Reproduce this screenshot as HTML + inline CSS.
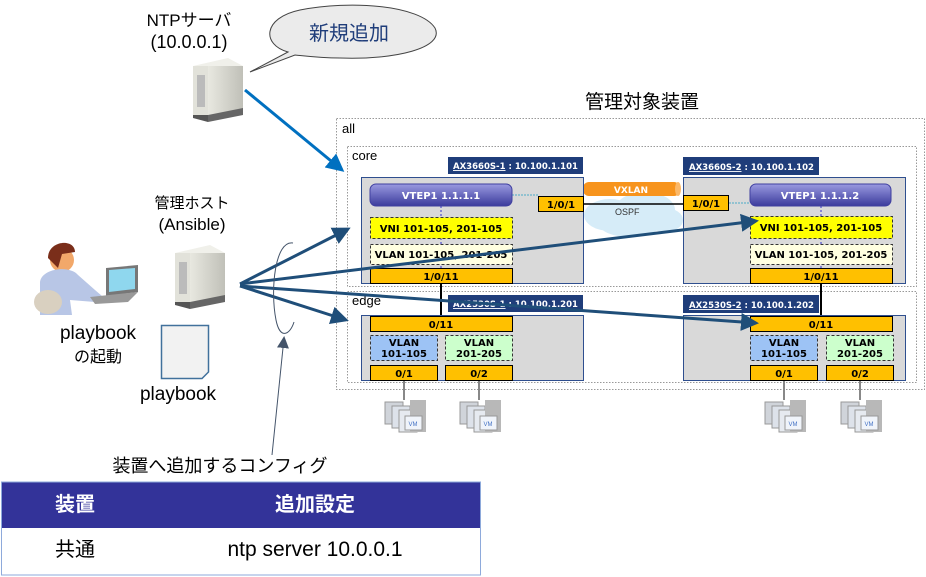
<!DOCTYPE html>
<html><head><meta charset="utf-8"><style>
html,body{margin:0;padding:0;background:#fff;}
svg{display:block;font-family:"Liberation Sans","Noto Sans CJK JP",sans-serif;}
.b{font-family:"DejaVu Sans","Liberation Sans",sans-serif;font-weight:bold;font-size:10px;}
.l{font-family:"DejaVu Sans","Liberation Sans",sans-serif;font-weight:bold;font-size:9px;}
</style></head><body>
<svg width="926" height="577" viewBox="0 0 926 577" xmlns="http://www.w3.org/2000/svg">
<defs>
<marker id="ah" markerWidth="6" markerHeight="6" refX="5" refY="3" orient="auto" markerUnits="strokeWidth"><path d="M0,0 L6,3 L0,6 z" fill="#1f4e79"/></marker>
<marker id="ah2" markerWidth="6" markerHeight="6" refX="5" refY="3" orient="auto" markerUnits="strokeWidth"><path d="M0,0 L6,3 L0,6 z" fill="#0070c0"/></marker>
<marker id="ah3" markerWidth="12" markerHeight="12" refX="10" refY="6" orient="auto" markerUnits="userSpaceOnUse"><path d="M0,0 L12,6 L0,12 z" fill="#44546a"/></marker>
<linearGradient id="vt" x1="0" y1="0" x2="0" y2="1"><stop offset="0" stop-color="#9a9ae0"/><stop offset="1" stop-color="#3b3b9c"/></linearGradient>
<linearGradient id="srv" x1="0" y1="0" x2="1" y2="0"><stop offset="0" stop-color="#e8e8e0"/><stop offset="1" stop-color="#c0c0b8"/></linearGradient>
</defs>

<text x="585" y="108" font-size="19">管理対象装置</text>
<rect x="336.5" y="118.5" width="588" height="271" fill="none" stroke="#999" stroke-dasharray="1.5,1.5"/>
<text x="342" y="133" font-size="13">all</text>
<rect x="347.5" y="146.5" width="569" height="140" fill="none" stroke="#999" stroke-dasharray="1.5,1.5"/>
<text x="352" y="160" font-size="13">core</text>
<rect x="347.5" y="291.5" width="569" height="91" fill="none" stroke="#999" stroke-dasharray="1.5,1.5"/>
<text x="352" y="305" font-size="13">edge</text>

<g fill="#d6ecf8"><ellipse cx="610" cy="215" rx="26" ry="16"/><ellipse cx="645" cy="210" rx="30" ry="18"/><ellipse cx="630" cy="225" rx="30" ry="12"/><ellipse cx="665" cy="220" rx="18" ry="12"/></g>
<text x="615" y="215" font-size="9" fill="#333">OSPF</text>
<rect x="583" y="182" width="97" height="14" rx="6" fill="#f7941d"/>
<ellipse cx="678" cy="189" rx="3" ry="7" fill="#fbb868"/>
<text x="631" y="193" class="b" fill="#fff" text-anchor="middle" style="font-size:9px">VXLAN</text>
<line x1="583" y1="204" x2="683" y2="204" stroke="#000" stroke-width="1.5"/>

<!-- switch core 1 -->
<rect x="448" y="157" width="135" height="17" fill="#1f3d7a"/>
<text x="453" y="169" class="l" fill="#fff" textLength="125" lengthAdjust="spacingAndGlyphs"><tspan text-decoration="underline">AX3660S-1</tspan> : 10.100.1.101</text>
<rect x="361.5" y="177.5" width="222" height="106" fill="#d9d9d9" stroke="#2f4f8f"/>
<line x1="512" y1="195" x2="538" y2="195" stroke="#4bacc6" stroke-dasharray="2,1"/>
<line x1="441" y1="206" x2="441" y2="268" stroke="#33c" stroke-dasharray="2,2"/>
<rect x="370" y="184" width="142" height="22" rx="6" fill="url(#vt)" stroke="#4040a0"/>
<text x="441" y="199" class="b" fill="#fff" text-anchor="middle">VTEP1   1.1.1.1</text>
<rect x="370.5" y="217.5" width="142" height="21" fill="#ffff00" stroke="#333" stroke-dasharray="3,2"/>
<text x="441" y="232" class="b" text-anchor="middle">VNI 101-105, 201-105</text>
<rect x="370.5" y="244.5" width="142" height="20" fill="#ffffe0" stroke="#333" stroke-dasharray="3,2"/>
<text x="441" y="258" class="b" text-anchor="middle">VLAN 101-105, 201-205</text>
<rect x="370.5" y="268.5" width="142" height="15" fill="#ffc000" stroke="#000"/>
<text x="441" y="280" class="b" text-anchor="middle">1/0/11</text>
<rect x="538.5" y="196.5" width="45" height="15" fill="#ffc000" stroke="#000"/>
<text x="561" y="208" class="b" text-anchor="middle">1/0/1</text>

<!-- switch core 2 -->
<rect x="683" y="157" width="136" height="18" fill="#1f3d7a"/>
<text x="689" y="170" class="l" fill="#fff" textLength="125" lengthAdjust="spacingAndGlyphs"><tspan text-decoration="underline">AX3660S-2</tspan> : 10.100.1.102</text>
<rect x="683.5" y="177.5" width="222" height="106" fill="#d9d9d9" stroke="#2f4f8f"/>
<line x1="729" y1="203" x2="750" y2="203" stroke="#4bacc6" stroke-dasharray="2,1"/>
<line x1="821" y1="206" x2="821" y2="268" stroke="#33c" stroke-dasharray="2,2"/>
<rect x="750" y="184" width="141" height="22" rx="6" fill="url(#vt)" stroke="#4040a0"/>
<text x="820" y="199" class="b" fill="#fff" text-anchor="middle">VTEP1   1.1.1.2</text>
<rect x="750.5" y="216.5" width="142" height="22" fill="#ffff00" stroke="#333" stroke-dasharray="3,2"/>
<text x="821" y="231" class="b" text-anchor="middle">VNI 101-105, 201-105</text>
<rect x="750.5" y="244.5" width="142" height="20" fill="#ffffe0" stroke="#333" stroke-dasharray="3,2"/>
<text x="821" y="258" class="b" text-anchor="middle">VLAN 101-105, 201-205</text>
<rect x="750.5" y="268.5" width="142" height="15" fill="#ffc000" stroke="#000"/>
<text x="821" y="280" class="b" text-anchor="middle">1/0/11</text>
<rect x="683.5" y="195.5" width="45" height="15" fill="#ffc000" stroke="#000"/>
<text x="706" y="207" class="b" text-anchor="middle">1/0/1</text>

<line x1="441" y1="284" x2="441" y2="316" stroke="#000" stroke-width="2"/>
<line x1="821" y1="284" x2="821" y2="316" stroke="#000" stroke-width="2"/>

<!-- edge 1 -->
<rect x="448" y="295" width="135" height="17" fill="#1f3d7a"/>
<text x="453" y="307" class="l" fill="#fff" textLength="125" lengthAdjust="spacingAndGlyphs"><tspan text-decoration="underline">AX2530S-1</tspan> : 10.100.1.201</text>
<rect x="361.5" y="315.5" width="222" height="65" fill="#d9d9d9" stroke="#2f4f8f"/>
<rect x="370.5" y="316.5" width="142" height="15" fill="#ffc000" stroke="#000"/>
<text x="441" y="328" class="b" text-anchor="middle">0/11</text>
<rect x="370.5" y="335.5" width="67" height="25" fill="#9dc3f5" stroke="#333" stroke-dasharray="3,2"/>
<text x="404" y="346" class="b" text-anchor="middle">VLAN</text><text x="404" y="357" class="b" text-anchor="middle">101-105</text>
<rect x="445.5" y="335.5" width="67" height="25" fill="#ccffcc" stroke="#333" stroke-dasharray="3,2"/>
<text x="479" y="346" class="b" text-anchor="middle">VLAN</text><text x="479" y="357" class="b" text-anchor="middle">201-205</text>
<rect x="370.5" y="365.5" width="67" height="15" fill="#ffc000" stroke="#000"/>
<text x="404" y="377" class="b" text-anchor="middle">0/1</text>
<rect x="445.5" y="365.5" width="67" height="15" fill="#ffc000" stroke="#000"/>
<text x="479" y="377" class="b" text-anchor="middle">0/2</text>

<!-- edge 2 -->
<rect x="683" y="295" width="136" height="18" fill="#1f3d7a"/>
<text x="689" y="308" class="l" fill="#fff" textLength="125" lengthAdjust="spacingAndGlyphs"><tspan text-decoration="underline">AX2530S-2</tspan> : 10.100.1.202</text>
<rect x="683.5" y="315.5" width="222" height="65" fill="#d9d9d9" stroke="#2f4f8f"/>
<rect x="750.5" y="316.5" width="142" height="15" fill="#ffc000" stroke="#000"/>
<text x="821" y="328" class="b" text-anchor="middle">0/11</text>
<rect x="750.5" y="335.5" width="67" height="25" fill="#9dc3f5" stroke="#333" stroke-dasharray="3,2"/>
<text x="784" y="346" class="b" text-anchor="middle">VLAN</text><text x="784" y="357" class="b" text-anchor="middle">101-105</text>
<rect x="826.5" y="335.5" width="67" height="25" fill="#ccffcc" stroke="#333" stroke-dasharray="3,2"/>
<text x="860" y="346" class="b" text-anchor="middle">VLAN</text><text x="860" y="357" class="b" text-anchor="middle">201-205</text>
<rect x="750.5" y="365.5" width="67" height="15" fill="#ffc000" stroke="#000"/>
<text x="784" y="377" class="b" text-anchor="middle">0/1</text>
<rect x="826.5" y="365.5" width="67" height="15" fill="#ffc000" stroke="#000"/>
<text x="860" y="377" class="b" text-anchor="middle">0/2</text>

<g id="vm">
<line x1="404" y1="381" x2="404" y2="400" stroke="#888" stroke-width="2"/>
<rect x="385" y="402" width="18" height="22" fill="#d0d4da" stroke="#999"/>
<rect x="392" y="406" width="18" height="22" fill="#dde2ea" stroke="#999"/>
<rect x="399" y="410" width="18" height="22" fill="#e6eaf0" stroke="#999"/>
<rect x="410" y="400" width="16" height="32" fill="#b8b8b8"/>
<rect x="405" y="416" width="17" height="14" fill="#f0f4fa" stroke="#999"/>
<text x="413" y="426" font-size="6" fill="#4472c4" text-anchor="middle">VM</text>
</g>
<use href="#vm" x="75"/><use href="#vm" x="380"/><use href="#vm" x="456"/>

<!-- NTP server -->
<text x="189" y="26" font-size="17" text-anchor="middle">NTPサーバ</text>
<text x="189" y="48" font-size="18" text-anchor="middle">(10.0.0.1)</text>
<g id="srvg">
<polygon points="193,66 228,58 243,66 208,72" fill="#f0f0ea"/>
<rect x="193" y="66" width="15" height="49" fill="#e2e2da"/>
<rect x="208" y="66" width="35" height="49" fill="url(#srv)"/>
<rect x="197" y="75" width="8" height="32" fill="#bbb"/>
<polygon points="193,115 208,115 208,122 193,118" fill="#555"/>
<polygon points="208,115 243,108 243,115 208,122" fill="#666"/>
</g>
<path d="M250,72 L288,52 C262,45 262,18 300,10 C350,0 420,5 435,28 C445,48 395,60 340,58 C320,58 305,56 295,55 Z" fill="#ebebeb" stroke="#444"/>
<text x="349" y="40" font-size="20" fill="#1f3d7a" text-anchor="middle">新規追加</text>
<line x1="245" y1="90" x2="342" y2="170" stroke="#0070c0" stroke-width="3" marker-end="url(#ah2)"/>

<!-- management host -->
<text x="192" y="208" font-size="15" text-anchor="middle">管理ホスト</text>
<text x="192" y="230" font-size="17" text-anchor="middle">(Ansible)</text>
<use href="#srvg" x="-18" y="187"/>
<circle cx="62" cy="260" r="12" fill="#f2a86a"/>
<path d="M48,258 C48,240 75,238 75,252 L62,254 L58,268 Z" fill="#7a2e1a"/>
<path d="M40,315 L40,282 C42,268 70,265 78,275 L95,290 L102,296 L95,302 L70,300 L72,315 Z" fill="#b8c6e6"/>
<ellipse cx="48" cy="302" rx="14" ry="12" fill="#d9d0c0"/>
<polygon points="106,268 138,265 138,292 106,296" fill="#777"/><polygon points="109,270 135,268 135,289 109,292" fill="#8fd7ee"/>
<polygon points="90,297 138,292 128,302 95,304" fill="#999"/>
<text x="98" y="339" font-size="19" text-anchor="middle">playbook</text>
<text x="98" y="362" font-size="16" text-anchor="middle">の起動</text>
<path d="M161.5,325.5 H208.5 V372 L202,378.5 H161.5 Z" fill="#f2f2f2" stroke="#41719c" stroke-width="1.5"/>
<text x="178" y="400" font-size="19" text-anchor="middle">playbook</text>

<g stroke="#1f4e79" stroke-width="3" fill="none">
<line x1="240" y1="284" x2="348" y2="229" marker-end="url(#ah)"/>
<line x1="240" y1="284" x2="756" y2="221" marker-end="url(#ah)"/>
<line x1="240" y1="286" x2="756" y2="323" marker-end="url(#ah)"/>
<line x1="240" y1="286" x2="346" y2="320" marker-end="url(#ah)"/>
</g>
<path d="M293,243 C275,240 270,290 276,320 C280,340 290,335 294,322" fill="none" stroke="#44546a"/>
<line x1="272" y1="455" x2="284" y2="338" stroke="#44546a" marker-end="url(#ah3)"/>

<text x="220" y="472" font-size="18" text-anchor="middle">装置へ追加するコンフィグ</text>
<rect x="1.5" y="482" width="479" height="46" fill="#333399"/>
<rect x="1.5" y="482" width="479" height="93" fill="none" stroke="#8eaadb"/>
<text x="75" y="511" font-size="20" font-weight="bold" fill="#fff" text-anchor="middle">装置</text>
<text x="315" y="511" font-size="20" font-weight="bold" fill="#fff" text-anchor="middle">追加設定</text>
<text x="75" y="556" font-size="20" text-anchor="middle">共通</text>
<text x="315" y="556" font-size="21" text-anchor="middle">ntp server 10.0.0.1</text>
</svg>
</body></html>
